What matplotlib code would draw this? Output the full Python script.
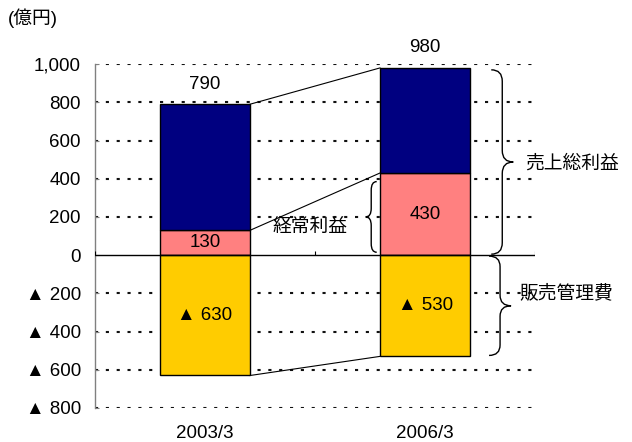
import matplotlib.pyplot as plt
import numpy as np
from matplotlib.path import Path
from matplotlib.patches import PathPatch

plt.rcParams['font.family'] = ['Liberation Sans', 'Noto Sans CJK JP', 'DejaVu Sans']

# data (億円)
years = ['2003/3', '2006/3']
keijo = [130, 430]        # 経常利益
gross = [790, 980]        # 売上総利益
hankan = [-630, -530]     # 販売管理費
yticks = [-800, -600, -400, -200, 0, 200, 400, 600, 800, 1000]
ylabels = ['▲ 800', '▲ 600', '▲ 400', '▲ 200', '0', '200', '400', '600', '800', '1,000']

x = np.arange(len(years))
w = 0.41

fig = plt.figure(figsize=(6.32, 4.42), dpi=100)
ax = fig.add_axes([0.150, 0.077, 0.697, 0.778])
ax.set_xlim(-0.5, 1.5)
ax.set_ylim(-800, 1000)

# dotted grid
for v in yticks:
    if v != 0:
        ax.axhline(v, color='#111111', lw=1.5, linestyle=(0, (1.5, 3.7)), zorder=1)
ax.axhline(0, color='black', lw=1.0, zorder=4)
ax.vlines([-0.5, 0.5, 1.5], 0, 22, color='black', lw=0.8, zorder=4)

upper = [g - k for g, k in zip(gross, keijo)]
ax.bar(x, keijo, w, color='#FF8080', edgecolor='black', lw=1.0, zorder=3)
ax.bar(x, upper, w, bottom=keijo, color='#000080', edgecolor='black', lw=1.0, zorder=3)
ax.bar(x, hankan, w, color='#FFCC00', edgecolor='black', lw=1.0, zorder=3)

# connecting lines
for s in (gross, keijo, hankan):
    ax.plot([x[0] + w / 2, x[1] - w / 2], [s[0], s[1]], color='black', lw=0.8, zorder=2)

fs = 13.5
for i in range(len(years)):
    ax.text(x[i], gross[i] + 105, str(gross[i]), ha='center', va='center', fontsize=fs)
    ax.text(x[i], keijo[i] / 2, str(keijo[i]), ha='center', va='center', fontsize=fs)
    ax.text(x[i], hankan[i] / 2, '▲ %d' % abs(hankan[i]), ha='center', va='center', fontsize=fs)


def brace(ax, x0, y0, y1, width, d=50):
    ym = (y0 + y1) / 2
    xm = x0 + width / 2
    verts = [(x0, y1), (xm, y1), (xm, y1 - d),
             (xm, ym + d),
             (xm, ym), (x0 + width, ym),
             (xm, ym), (xm, ym - d),
             (xm, y0 + d),
             (xm, y0), (x0, y0)]
    codes = [Path.MOVETO, Path.CURVE3, Path.CURVE3,
             Path.LINETO,
             Path.CURVE3, Path.CURVE3,
             Path.CURVE3, Path.CURVE3,
             Path.LINETO,
             Path.CURVE3, Path.CURVE3]
    ax.add_patch(PathPatch(Path(verts, codes), fill=False, lw=1.0, color='black', zorder=5))


brace(ax, 1.30, 5, gross[1] - 10, 0.10, d=60)
brace(ax, 1.29, hankan[1] + 5, -5, 0.10, d=55)
brace(ax, 0.78, 15, keijo[1] - 45, -0.05, d=45)

ax.text(1.455, 476, '売上総利益', ha='left', va='center', fontsize=fs)
ax.text(1.43, -200, '販売管理費', ha='left', va='center', fontsize=fs)
ax.text(0.475, 140, '経常利益', ha='center', va='center', fontsize=fs)

ax.set_yticks(yticks)
ax.set_yticklabels(ylabels, fontsize=fs)
ax.set_xticks(x)
ax.set_xticklabels(years, fontsize=fs)
ax.tick_params(axis='x', length=0, pad=12)
ax.tick_params(axis='y', direction='in', length=3, color='#808080', pad=10)
for sp in ('top', 'right', 'bottom'):
    ax.spines[sp].set_visible(False)
ax.spines['left'].set_color('#808080')
ax.spines['left'].set_linewidth(1.0)

fig.text(0.012, 1 - 18 / 442, '(億円)', ha='left', va='center', fontsize=fs)

fig.savefig('out.png', dpi=100)
